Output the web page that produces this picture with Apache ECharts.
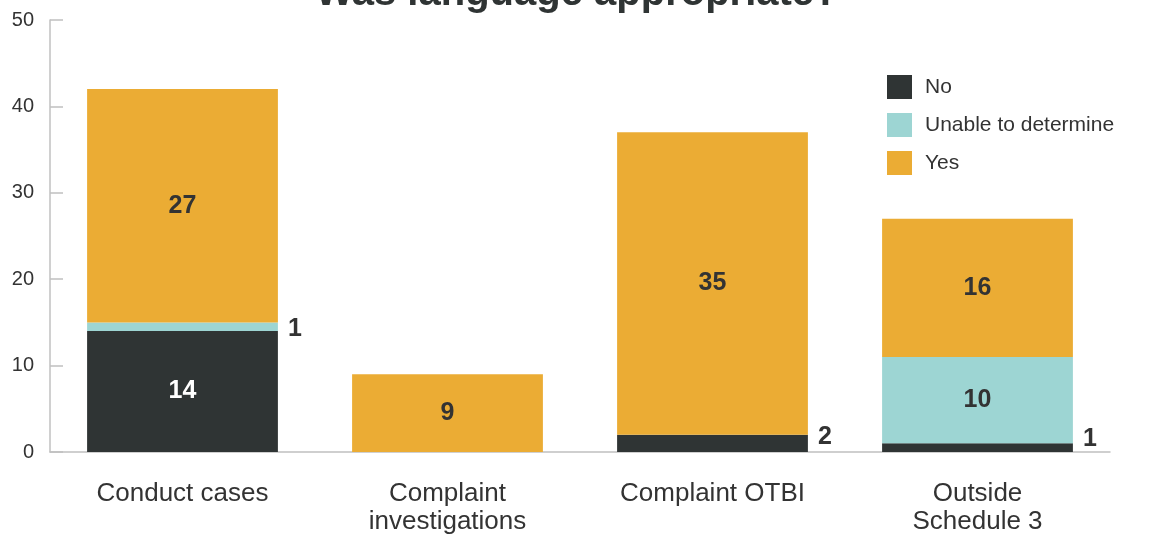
<!DOCTYPE html>
<html>
<head>
<meta charset="utf-8">
<script src="https://cdn.jsdelivr.net/npm/echarts@6/dist/echarts.min.js"></script>
<style>
  html, body { margin: 0; padding: 0; background: #fff; }
  #chart { width: 1154px; height: 536px; }
</style>
</head>
<body>
<div id="chart"></div>
<script>
// Category names (x axis)
const categories = ['Conduct cases', 'Complaint\ninvestigations', 'Complaint OTBI', 'Outside\nSchedule 3'];
// Answer counts per category
const noValues = [14, 0, 2, 1];
const unableValues = [1, 0, 0, 10];
const yesValues = [27, 9, 35, 16];
// Y axis ticks
const yMin = 0, yMax = 50, yStep = 10;

const FONT = '"Liberation Sans", Arial, Helvetica, sans-serif';
const DARK = '#2f3434';
const TEXT = '#333333';

// Small segments get their number beside the bar; vertical nudge per category
const sideLabelNudge = [2, 0, -6, -9];

function makeData(values, insideColor) {
  return values.map((v, i) => {
    if (v === 0) return { value: v, label: { show: false } };
    if (v < 3) {
      return {
        value: v,
        label: { show: true, position: 'right', distance: 10, color: TEXT, offset: [0, sideLabelNudge[i]] }
      };
    }
    return { value: v, label: { show: true, position: 'inside', color: insideColor } };
  });
}

function series(name, values, color, insideColor) {
  return {
    name: name,
    type: 'bar',
    stack: 'total',
    barWidth: '72%',
    itemStyle: { color: color },
    label: {
      show: true,
      fontFamily: FONT,
      fontWeight: 'bold',
      fontSize: 25,
      formatter: p => String(p.value)
    },
    emphasis: { disabled: true },
    data: makeData(values, insideColor)
  };
}

const chart = echarts.init(document.getElementById('chart'), null, { renderer: 'canvas' });
chart.setOption({
  animation: false,
  backgroundColor: '#ffffff',
  title: {
    text: 'Was language appropriate?',
    left: 'center',
    top: -31,
    textStyle: { fontFamily: FONT, fontWeight: 'bold', fontSize: 40, color: DARK }
  },
  legend: {
    orient: 'vertical',
    left: 882,
    top: 70,
    itemWidth: 25,
    itemHeight: 24,
    itemGap: 14,
    itemStyle: { borderWidth: 0 },
    textStyle: { fontFamily: FONT, fontSize: 21, color: TEXT, padding: [6, 0, 0, 8] },
    data: ['No', 'Unable to determine', 'Yes'],
    icon: 'rect'
  },
  grid: { left: 50, right: 44, top: 20, bottom: 84, containLabel: false },
  xAxis: {
    type: 'category',
    data: categories,
    axisLine: { show: true, lineStyle: { color: '#c0c0c0', width: 1.5 } },
    axisTick: { show: false },
    axisLabel: {
      fontFamily: FONT, fontSize: 26, color: TEXT, margin: 28, lineHeight: 28
    }
  },
  yAxis: {
    type: 'value',
    min: yMin, max: yMax, interval: yStep,
    axisLine: { show: true, lineStyle: { color: '#c0c0c0', width: 1.5 } },
    axisTick: { show: true, inside: true, length: 13, lineStyle: { color: '#c0c0c0', width: 1.5 } },
    splitLine: { show: false },
    axisLabel: { fontFamily: FONT, fontSize: 20, color: TEXT, margin: 16 }
  },
  series: [
    series('No', noValues, DARK, '#ffffff'),
    series('Unable to determine', unableValues, '#9dd5d3', TEXT),
    series('Yes', yesValues, '#ebac34', TEXT)
  ]
});
</script>
</body>
</html>
